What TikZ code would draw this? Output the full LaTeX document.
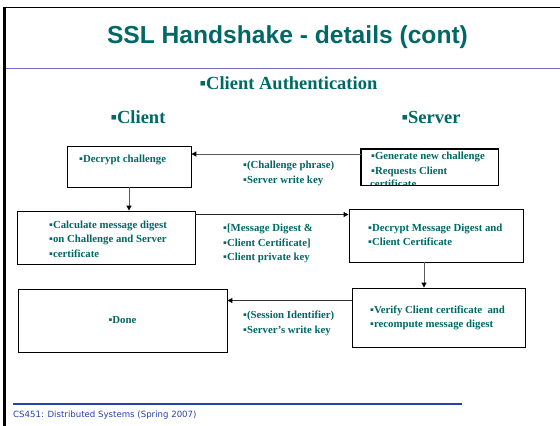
\documentclass[tikz,border=0pt]{standalone}
\usepackage{fontspec}
\setmainfont{Liberation Serif}
\newfontfamily\titlefont{Liberation Sans}
\newfontfamily\footfont{DejaVu Sans}
\usetikzlibrary{arrows.meta}
\definecolor{tealtext}{RGB}{0,104,102}
\definecolor{ruleblue}{RGB}{112,112,196}
\definecolor{footblue}{RGB}{40,64,176}
\definecolor{arrowgray}{RGB}{90,90,90}
\tikzset{
  box/.style={draw=black, line width=0.9pt, fill=white, inner sep=0pt},
  txt/.style={text=tealtext, font=\bfseries\fontsize{10.8}{14.5}\selectfont, inner sep=0pt, align=left, anchor=west},
  head/.style={text=tealtext, font=\bfseries\fontsize{18.5}{20}\selectfont, inner sep=0pt},
  arr/.style={line width=1pt, -{Triangle[length=5pt,width=5pt,color=black]}},
}
\begin{document}
\begin{tikzpicture}[x=1pt, y=-1pt]
\useasboundingbox[fill=white] (0,0) rectangle (560,426);

% slide frame
\draw[line width=1.5pt] (4,7.5) -- (560,7.5);
\draw[line width=3pt] (4.3,7) -- (4.3,426);

% title and rule
\node[text=tealtext, font=\titlefont\bfseries\fontsize{24.6}{28}\selectfont, inner sep=0pt] (title) at (287.5,37) {SSL Handshake - details (cont)};
\draw[ruleblue, line width=1pt] (5.5,68) -- (560,68);

% headings
\node[head] (auth) at (288.5,83) {▪Client Authentication};
\node[head] (client) at (138,117) {▪Client};
\node[head] (server) at (431,117) {▪Server};

% boxes
\node[box, minimum width=124pt, minimum height=41pt] (b1) at (129,166.5) {};
\node[box, minimum width=178pt, minimum height=53pt] (b2) at (106,237.5) {};
\node[box, minimum width=137pt, minimum height=36pt] (b3) at (429.5,167) {};
\node[box, minimum width=174pt, minimum height=53pt] (b4) at (436,235.5) {};
\node[box, minimum width=209pt, minimum height=63pt] (b5) at (122.5,320.5) {};
\node[box, minimum width=173pt, minimum height=59pt] (b6) at (438.5,317.5) {};

% box texts
\node[txt] (t1) at (79,160) {▪Decrypt challenge};
\node[txt] (t2) at (49,239) {▪Calculate message digest\\▪on Challenge and Server\\▪certificate};
\begin{scope}
  \clip (b3.north west) rectangle (b3.south east);
  \node[txt, font=\bfseries\fontsize{10.8}{15}\selectfont] (t3a) at (371,164) {▪Generate new challenge\\▪Requests Client};
  \node[txt, anchor=base west] (t3b) at (370,187.5) {certificate};
\end{scope}
\draw[line width=0.9pt] (b3.north west) rectangle (b3.south east);
\node[txt] (t4) at (368,235) {▪Decrypt Message Digest and\\▪Client Certificate};
\node[txt, anchor=center] (t5) at (122.5,320) {▪Done};
\node[txt] (t6) at (370,318) {▪Verify Client certificate\ \ and\\▪recompute message digest};

% connectors
\draw[arr, arrowgray] (b3.west |- 0,154) -- (b1.east |- 0,154);
\draw[arr, arrowgray] (b1.south) -- (b1.south |- b2.north);
\draw[arr, black!85] (b2.east |- 0,214.5) -- (b4.west |- 0,214.5);
\coordinate (d4) at (b4.south -| 424,0);
\draw[arr, arrowgray] (d4) -- (d4 |- b6.north);
\draw[arr, black!80] (b6.west |- 0,300.5) -- (b5.east |- 0,300.5);

% connector labels
\node[txt] (l1) at (243,173.5) {▪(Challenge phrase)\\▪Server write key};
\node[txt] (l2) at (223,243.5) {▪[Message Digest \&\\▪Client Certificate]\\▪Client private key};
\node[txt] (l3) at (243,323.5) {▪(Session Identifier)\\▪Server's write key};

% footer
\draw[footblue, line width=1.3pt] (13,404) -- (462,404);
\node[text=footblue, font=\footfont\fontsize{8.6}{10}\selectfont, inner sep=0pt, anchor=west] (foot) at (13,415) {CS451: Distributed Systems (Spring 2007)};
\end{tikzpicture}
\end{document}
